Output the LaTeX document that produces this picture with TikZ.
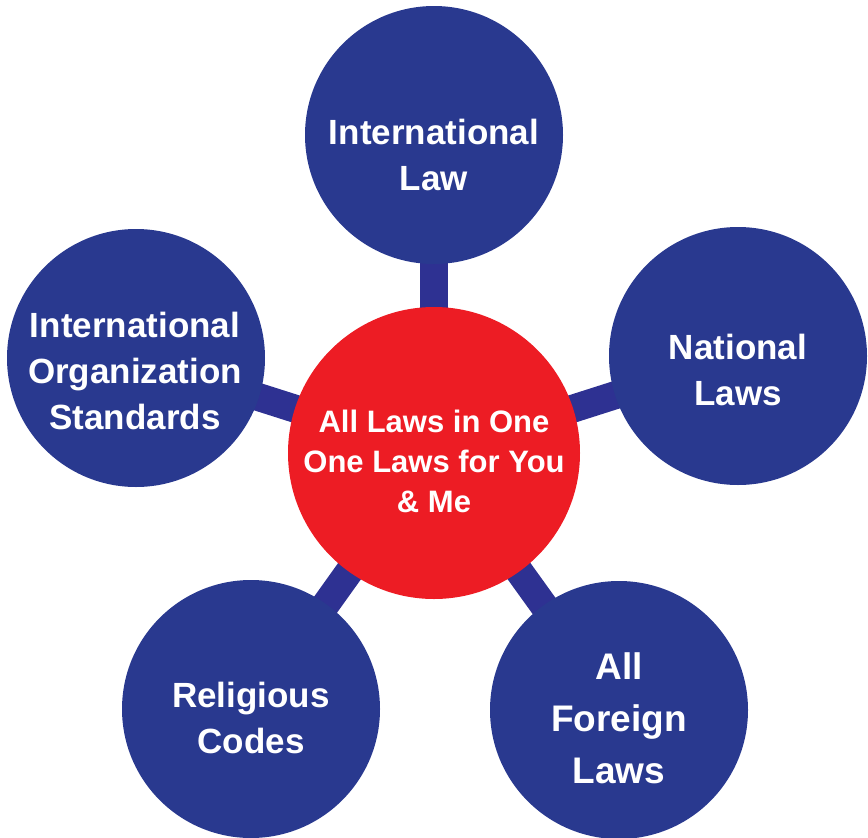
\documentclass[tikz,border=0pt]{standalone}
\usepackage{fontspec}
\setmainfont{Liberation Sans}
\usetikzlibrary{backgrounds}

\definecolor{lawblue}{RGB}{41,57,143}
\definecolor{linkblue}{RGB}{46,49,146}
\definecolor{lawred}{RGB}{237,28,36}

\begin{document}
\begin{tikzpicture}[
      x = 1pt, y = -1pt,
      Link/.style = {draw = linkblue, line width = 28pt},
      Hub/.style = {circle, fill = lawred, minimum size = 292pt, inner sep = 0pt},
      Branch/.style = {circle, fill = lawblue, minimum size = 258pt, inner sep = 0pt},
      HubText/.style = {text = white, align = center, font = \bfseries\fontsize{31}{40}\selectfont},
      BranchText/.style = {text = white, align = center, font = \bfseries\fontsize{35}{46}\selectfont}
    ]
    \useasboundingbox (0,0) rectangle (868,838);

    \node at (434,453) [Hub](hub){};
    \node at (434,135) [Branch](intl){};
    \node at (738,356) [Branch](natl){};
    \node at (136,358) [Branch](orgs){};
    \node at (251,709) [Branch](relig){};
    \node at (619,710) [Branch](foreign){};

    \begin{scope}[on background layer]
      \path [Link] (hub.center) -- (intl.center);
      \path [Link] (hub.center) -- (natl.center);
      \path [Link] (hub.center) -- (orgs.center);
      \path [Link] (hub.center) -- (relig.center);
      \path [Link] (hub.center) -- (foreign.center);
    \end{scope}

    \node at (434,461) [HubText](hubtxt){All Laws in One\\One Laws for You\\\& Me};
    \node at (434,155) [BranchText](intltxt){International\\Law};
    \node at (738,370) [BranchText](natltxt){National\\Laws};
    \node at (135,371) [BranchText](orgstxt){International\\Organization\\Standards};
    \node at (251,718) [BranchText](religtxt){Religious\\Codes};
    \node at (619,718) [BranchText, font = \bfseries\fontsize{37}{52}\selectfont](foreigntxt){All\\Foreign\\Laws};
  \end{tikzpicture}
\end{document}
